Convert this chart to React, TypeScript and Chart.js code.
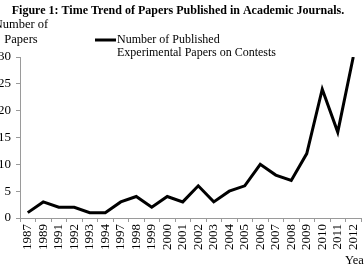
import React, { useEffect, useRef } from "react";
import { Chart, registerables, Plugin } from "chart.js";

Chart.register(...registerables);

const years = [
  "1987", "1989", "1991", "1992", "1993", "1994", "1997", "1998", "1999", "2000", "2001",
  "2002", "2003", "2004", "2005", "2006", "2007", "2008", "2009", "2010", "2011", "2012",
];
const papers = [1, 3, 2, 2, 1, 1, 3, 4, 2, 4, 3, 6, 3, 5, 6, 10, 8, 7, 12, 24, 16, 30];
const yTicks = [0, 5, 10, 15, 20, 25, 30];

const titleText = "Figure 1: Time Trend of Papers Published in Academic Journals.";
const yTitleLines = ["Number of", "Papers"];
const legendLines = ["Number of Published", "Experimental Papers on Contests"];
const xTitleText = "Year";

const SERIF = "'Liberation Serif', 'Times New Roman', serif";
const AXIS_GRAY = "#9a9a9a";

// Title, axis titles and the legend are plain text placed around the plot.
const annotations: Plugin<"line"> = {
  id: "annotations",
  afterDraw(chart) {
    const ctx = chart.ctx;
    ctx.save();
    ctx.fillStyle = "#000";
    ctx.textBaseline = "middle";

    ctx.font = `bold 12px ${SERIF}`;
    ctx.textAlign = "center";
    ctx.fillText(titleText, 178, 11);

    ctx.font = `12.5px ${SERIF}`;
    ctx.textAlign = "center";
    ctx.fillText(yTitleLines[0], 21, 25);
    ctx.fillText(yTitleLines[1], 21, 40);

    // legend swatch
    ctx.strokeStyle = "#000";
    ctx.lineWidth = 3;
    ctx.beginPath();
    ctx.moveTo(95, 40);
    ctx.lineTo(116, 40);
    ctx.stroke();

    ctx.font = `12px ${SERIF}`;
    ctx.textAlign = "left";
    ctx.fillText(legendLines[0], 117, 40);
    ctx.fillText(legendLines[1], 117, 53);

    ctx.font = `12.5px ${SERIF}`;
    ctx.fillText(xTitleText, 345, 261);
    ctx.restore();
  },
};

export default function App() {
  const canvasRef = useRef<HTMLCanvasElement | null>(null);

  useEffect(() => {
    const canvas = canvasRef.current;
    if (!canvas) return;
    const chart = new Chart(canvas, {
      type: "line",
      data: {
        labels: years,
        datasets: [
          {
            label: legendLines.join(" "),
            data: papers,
            borderColor: "#000",
            backgroundColor: "#000",
            borderWidth: 3,
            pointRadius: 0,
            tension: 0,
          },
        ],
      },
      options: {
        responsive: false,
        animation: false,
        layout: { padding: { top: 57, right: 3, left: 0, bottom: 0 } },
        plugins: {
          legend: { display: false },
          title: { display: false },
          tooltip: { enabled: false },
        },
        scales: {
          x: {
            type: "category",
            offset: true,
            border: { display: true, color: AXIS_GRAY, width: 1 },
            grid: {
              display: true,
              drawOnChartArea: false,
              drawTicks: true,
              tickLength: 4,
              offset: true,
              color: AXIS_GRAY,
            },
            ticks: {
              autoSkip: false,
              minRotation: 90,
              maxRotation: 90,
              padding: 2,
              color: "#000",
              font: { family: SERIF, size: 13 },
            },
            afterFit(scale: any) {
              scale.height = 51;
              scale.paddingLeft = 0;
              scale.paddingRight = 0;
            },
          },
          y: {
            min: 0,
            max: 30,
            afterBuildTicks(scale: any) {
              scale.ticks = yTicks.map((v) => ({ value: v }));
            },
            border: { display: true, color: AXIS_GRAY, width: 1 },
            grid: {
              display: true,
              drawOnChartArea: false,
              drawTicks: true,
              tickLength: 4,
              color: AXIS_GRAY,
            },
            ticks: {
              padding: 5,
              color: "#000",
              font: { family: SERIF, size: 13 },
            },
            afterFit(scale: any) {
              scale.width = 20;
            },
          },
        },
      },
      plugins: [annotations],
    });
    return () => chart.destroy();
  }, []);

  return (
    <div style={{ position: "fixed", left: 0, top: 0, width: 364, height: 269, background: "#fff" }}>
      <canvas ref={canvasRef} width={364} height={269} style={{ width: 364, height: 269, display: "block" }} />
    </div>
  );
}
